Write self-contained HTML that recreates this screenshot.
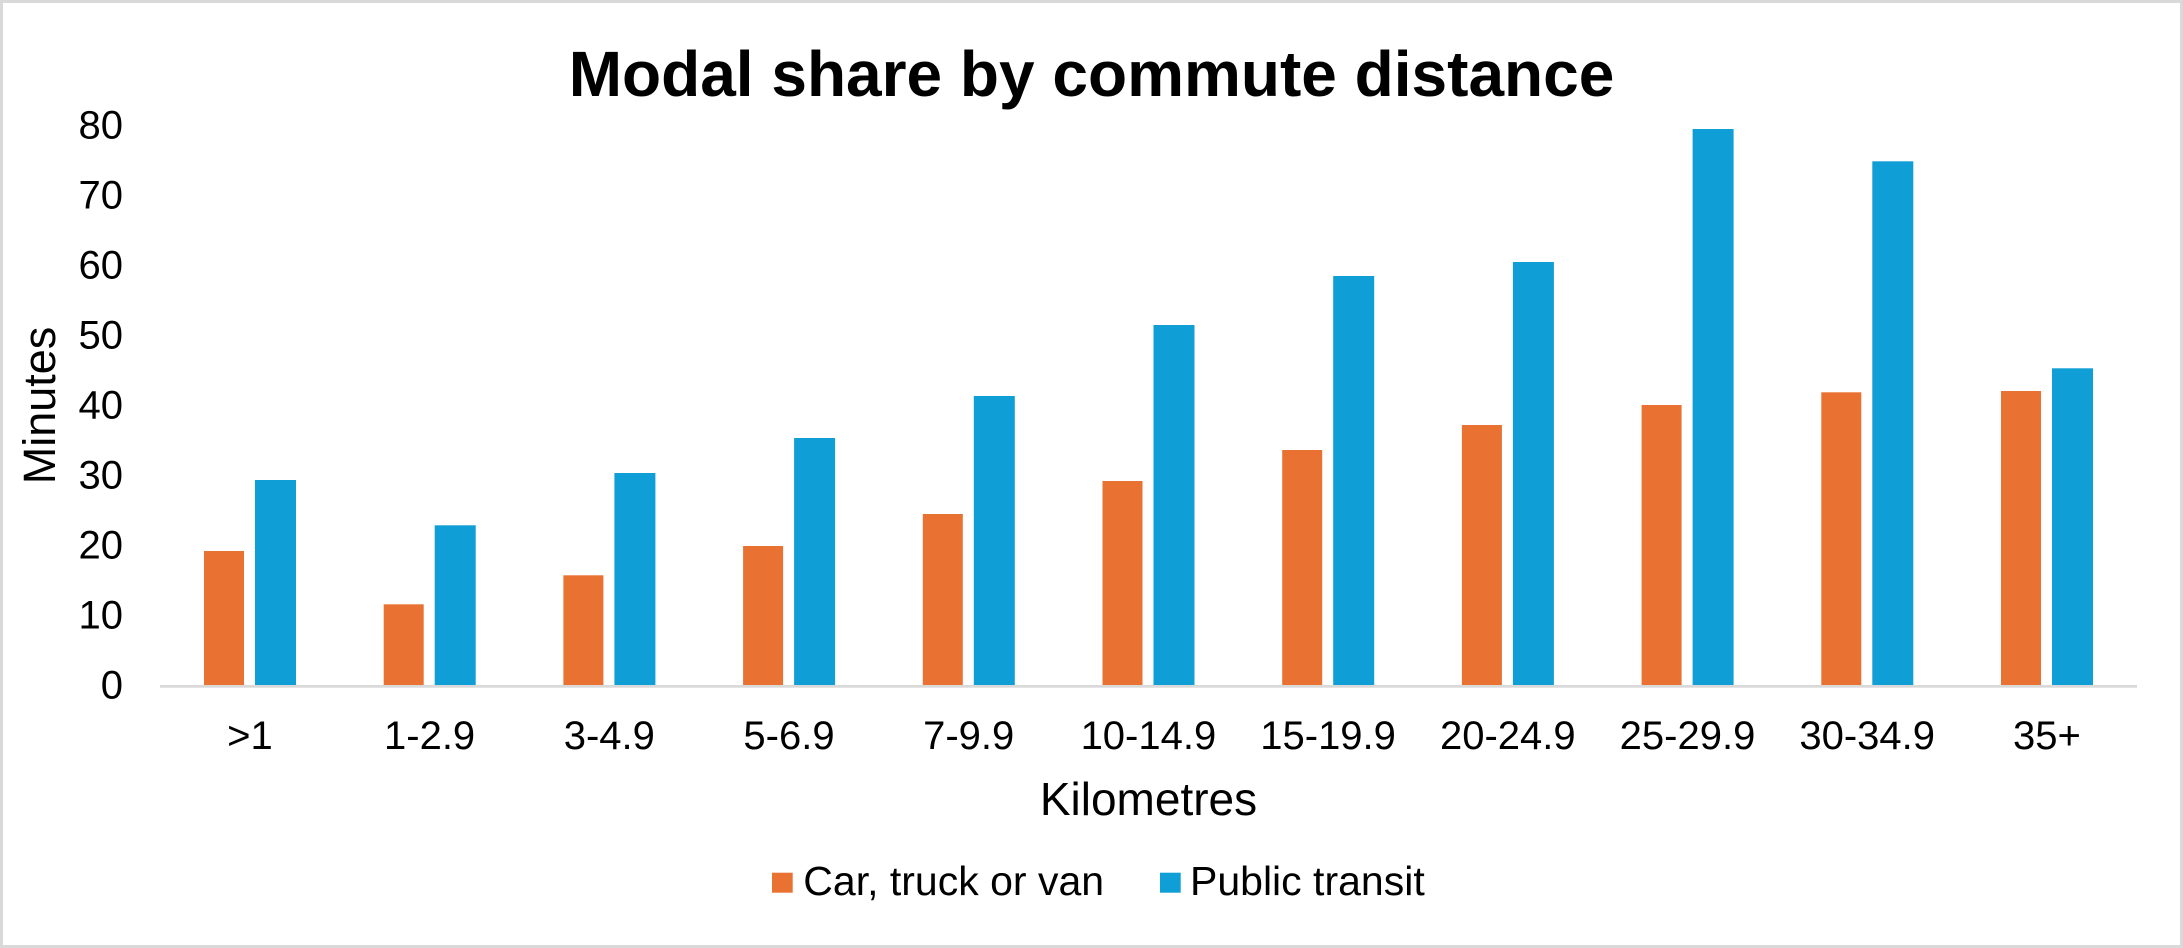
<!DOCTYPE html>
<html>
<head>
<meta charset="utf-8">
<style>
  html, body { margin: 0; padding: 0; background: #ffffff; }
  body { width: 2183px; height: 948px; overflow: hidden; }
  svg { display: block; }
  text { font-family: "Liberation Sans", Arial, sans-serif; fill: #000000; }
</style>
</head>
<body>
<svg width="2183" height="948" viewBox="0 0 2183 948" xmlns="http://www.w3.org/2000/svg">
  <rect x="0" y="0" width="2183" height="948" fill="#ffffff"/>
  <rect x="1.5" y="1.5" width="2180" height="945" fill="none" stroke="#d9d9d9" stroke-width="3"/>

  <!-- Title -->
  <text x="1091.5" y="96" font-size="64" font-weight="bold" text-anchor="middle">Modal share by commute distance</text>

  <!-- Y axis labels -->
  <g font-size="40" text-anchor="end">
    <text x="123" y="138.4">80</text>
    <text x="123" y="208.4">70</text>
    <text x="123" y="278.5">60</text>
    <text x="123" y="348.5">50</text>
    <text x="123" y="418.5">40</text>
    <text x="123" y="488.5">30</text>
    <text x="123" y="558.6">20</text>
    <text x="123" y="628.6">10</text>
    <text x="123" y="698.6">0</text>
  </g>

  <!-- Y axis title -->
  <text transform="translate(55,405.5) rotate(-90)" font-size="45" text-anchor="middle">Minutes</text>

  <!-- Bars: orange -->
  <g fill="#E97132">
    <rect x="204.0" y="551" width="40" height="134"/>
    <rect x="383.7" y="604.3" width="40" height="80.7"/>
    <rect x="563.4" y="575.3" width="40" height="109.7"/>
    <rect x="743.1" y="546" width="40" height="139"/>
    <rect x="922.8" y="514" width="40" height="171"/>
    <rect x="1102.5" y="481" width="40" height="204"/>
    <rect x="1282.2" y="450" width="40" height="235"/>
    <rect x="1461.9" y="425" width="40" height="260"/>
    <rect x="1641.6" y="405" width="40" height="280"/>
    <rect x="1821.3" y="392.3" width="40" height="292.7"/>
    <rect x="2001.0" y="391" width="40" height="294"/>
  </g>
  <!-- Bars: blue -->
  <g fill="#0F9ED5">
    <rect x="255.0" y="480" width="41" height="205"/>
    <rect x="434.7" y="525.3" width="41" height="159.7"/>
    <rect x="614.4" y="473" width="41" height="212"/>
    <rect x="794.1" y="438" width="41" height="247"/>
    <rect x="973.8" y="396" width="41" height="289"/>
    <rect x="1153.5" y="325" width="41" height="360"/>
    <rect x="1333.2" y="276" width="41" height="409"/>
    <rect x="1512.9" y="262" width="41" height="423"/>
    <rect x="1692.6" y="129" width="41" height="556"/>
    <rect x="1872.3" y="161.3" width="41" height="523.7"/>
    <rect x="2052.0" y="368.3" width="41" height="316.7"/>
  </g>

  <!-- X axis line -->
  <rect x="160" y="685" width="1977" height="2.7" fill="#d9d9d9"/>

  <!-- X labels -->
  <g font-size="40" text-anchor="middle">
    <text x="249.9" y="749">&gt;1</text>
    <text x="429.6" y="749">1-2.9</text>
    <text x="609.3" y="749">3-4.9</text>
    <text x="789.0" y="749">5-6.9</text>
    <text x="968.7" y="749">7-9.9</text>
    <text x="1148.4" y="749">10-14.9</text>
    <text x="1328.1" y="749">15-19.9</text>
    <text x="1507.8" y="749">20-24.9</text>
    <text x="1687.5" y="749">25-29.9</text>
    <text x="1867.2" y="749">30-34.9</text>
    <text x="2046.9" y="749">35+</text>
  </g>

  <!-- X axis title -->
  <text x="1148.5" y="815" font-size="46" text-anchor="middle">Kilometres</text>

  <!-- Legend -->
  <rect x="772" y="872.7" width="20.7" height="20" fill="#E97132"/>
  <text x="803.3" y="895" font-size="41">Car, truck or van</text>
  <rect x="1160" y="872.7" width="20.7" height="20" fill="#0F9ED5"/>
  <text x="1190" y="895" font-size="41">Public transit</text>
</svg>
</body>
</html>
